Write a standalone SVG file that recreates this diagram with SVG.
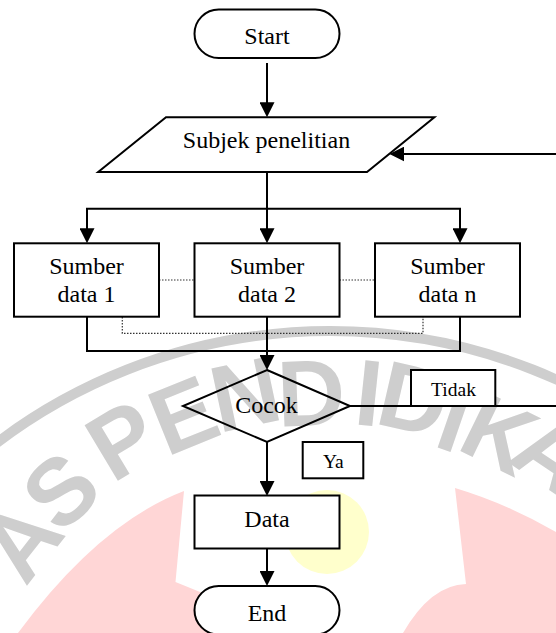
<svg xmlns="http://www.w3.org/2000/svg" width="556" height="633" viewBox="0 0 556 633">
<defs>
<style>
.wm-l{fill:#cecece;font-family:"Liberation Sans",Arial,sans-serif;font-weight:bold;font-size:94px;text-anchor:middle}
.band{fill:none;stroke:#cecece;stroke-width:10}
.pink{fill:#ffd6d6}
.shape{fill:#fff;stroke:#000;stroke-width:2}
.open{fill:none;stroke:#000;stroke-width:2}
.lbl{font-family:"Liberation Serif","Times New Roman",serif;font-size:24px;fill:#000;text-anchor:middle}
.sm{font-family:"Liberation Serif","Times New Roman",serif;font-size:19.5px;fill:#000;text-anchor:middle}
.conn{fill:none;stroke:#000;stroke-width:2}
.dot{fill:none;stroke:#333;stroke-width:1.2;stroke-dasharray:1.5 1.5}
</style>
<marker id="ah" markerWidth="15" markerHeight="15" refX="12" refY="7.5" orient="auto" markerUnits="userSpaceOnUse">
<path d="M0,0 L15,7.5 L0,15 Z" fill="#000"/>
</marker>
</defs>

<g id="watermark">
<path class="pink" d="M184,491 L175.5,582 L205,594 L235,640 L18,640 L18,633 Q99,523.5 184,491 Z"/>
<path class="pink" d="M455,488 Q506.5,503.4 556,532 L556,633 L403,633 Q430.9,584.9 466,584 Z"/>
<circle cx="327" cy="532" r="42" fill="#ffffcc"/>
<circle class="band" cx="330" cy="883" r="552"/>
<text class="wm-l" y="33.6" transform="translate(20,540) rotate(-52)">A</text>
<text class="wm-l" y="33.6" transform="translate(60,490) rotate(-43)">S</text>
<text class="wm-l" y="33.6" transform="translate(122,439) rotate(-31)">P</text>
<text class="wm-l" y="33.6" transform="translate(183,414) rotate(-22)">E</text>
<text class="wm-l" y="33.6" transform="translate(245,393) rotate(-12)">N</text>
<text class="wm-l" y="33.6" transform="translate(311,392) rotate(-2)">D</text>
<text class="wm-l" y="33.6" transform="translate(369,392) rotate(6)">I</text>
<text class="wm-l" y="33.6" transform="translate(414,398) rotate(13)">D</text>
<text class="wm-l" y="33.6" transform="translate(455,418) rotate(19)">I</text>
<text class="wm-l" y="33.6" transform="translate(500,433) rotate(26)">K</text>
<text class="wm-l" y="33.6" transform="translate(553,452) rotate(34)">A</text>
</g>

<g id="connectors">
<path class="conn" d="M267,63 V114.3" marker-end="url(#ah)"/>
<path class="conn" d="M267,172 V208.7"/>
<path class="conn" d="M86,208.7 H461"/>
<path class="conn" d="M87,208.7 V240.3" marker-end="url(#ah)"/>
<path class="conn" d="M267,208.7 V240.3" marker-end="url(#ah)"/>
<path class="conn" d="M460,208.7 V240.3" marker-end="url(#ah)"/>
<path class="conn" d="M87,316.7 V351 H460 V316.7"/>
<path class="dot" d="M122.3,317 V333.3 H423 V317"/>
<path class="dot" d="M159,280 H194.5"/>
<path class="dot" d="M339.5,280 H375"/>
<path class="conn" d="M267,316.7 V367" marker-end="url(#ah)"/>
<path class="conn" d="M267,442 V493" marker-end="url(#ah)"/>
<path class="conn" d="M267,548.5 V583" marker-end="url(#ah)"/>
<path class="conn" d="M350,406 H562 V154 H392.4" marker-end="url(#ah)"/>
</g>

<g id="start">
<rect class="shape" x="194.5" y="9.5" width="145" height="48.5" rx="24.25"/>
<text class="lbl" x="267" y="44">Start</text>
</g>

<g id="subjek">
<polygon class="shape" points="166,117.3 434.4,117.3 367,172 98.2,172"/>
<text class="lbl" x="266.5" y="148">Subjek penelitian</text>
</g>

<g id="sumber1">
<rect class="shape" x="14" y="243.3" width="145" height="73.4"/>
<text class="lbl" x="86.5" y="274.3">Sumber</text>
<text class="lbl" x="86.5" y="301.7">data 1</text>
</g>

<g id="sumber2">
<rect class="shape" x="194.5" y="243.3" width="145" height="73.4"/>
<text class="lbl" x="267" y="274.3">Sumber</text>
<text class="lbl" x="267" y="301.7">data 2</text>
</g>

<g id="sumbern">
<rect class="shape" x="375" y="243.3" width="145" height="73.4"/>
<text class="lbl" x="447.5" y="274.3">Sumber</text>
<text class="lbl" x="447.5" y="301.7">data n</text>
</g>

<g id="cocok">
<polygon class="open" points="267,370 350,406 267,442 183,406"/>
<text class="lbl" x="266.5" y="413.3">Cocok</text>
</g>

<g id="tidak">
<rect class="shape" x="411" y="370" width="84.3" height="36"/>
<text class="sm" x="453.5" y="395.7">Tidak</text>
</g>

<g id="ya">
<rect class="shape" x="302.7" y="442" width="60.6" height="36.3"/>
<text class="sm" x="333.3" y="468.3">Ya</text>
</g>

<g id="data">
<rect class="shape" x="194.5" y="495.5" width="145" height="53"/>
<text class="lbl" x="267" y="526.7">Data</text>
</g>

<g id="end">
<rect class="shape" x="194.5" y="586" width="145" height="48.5" rx="24.25"/>
<text class="lbl" x="267" y="620.7">End</text>
</g>
</svg>
